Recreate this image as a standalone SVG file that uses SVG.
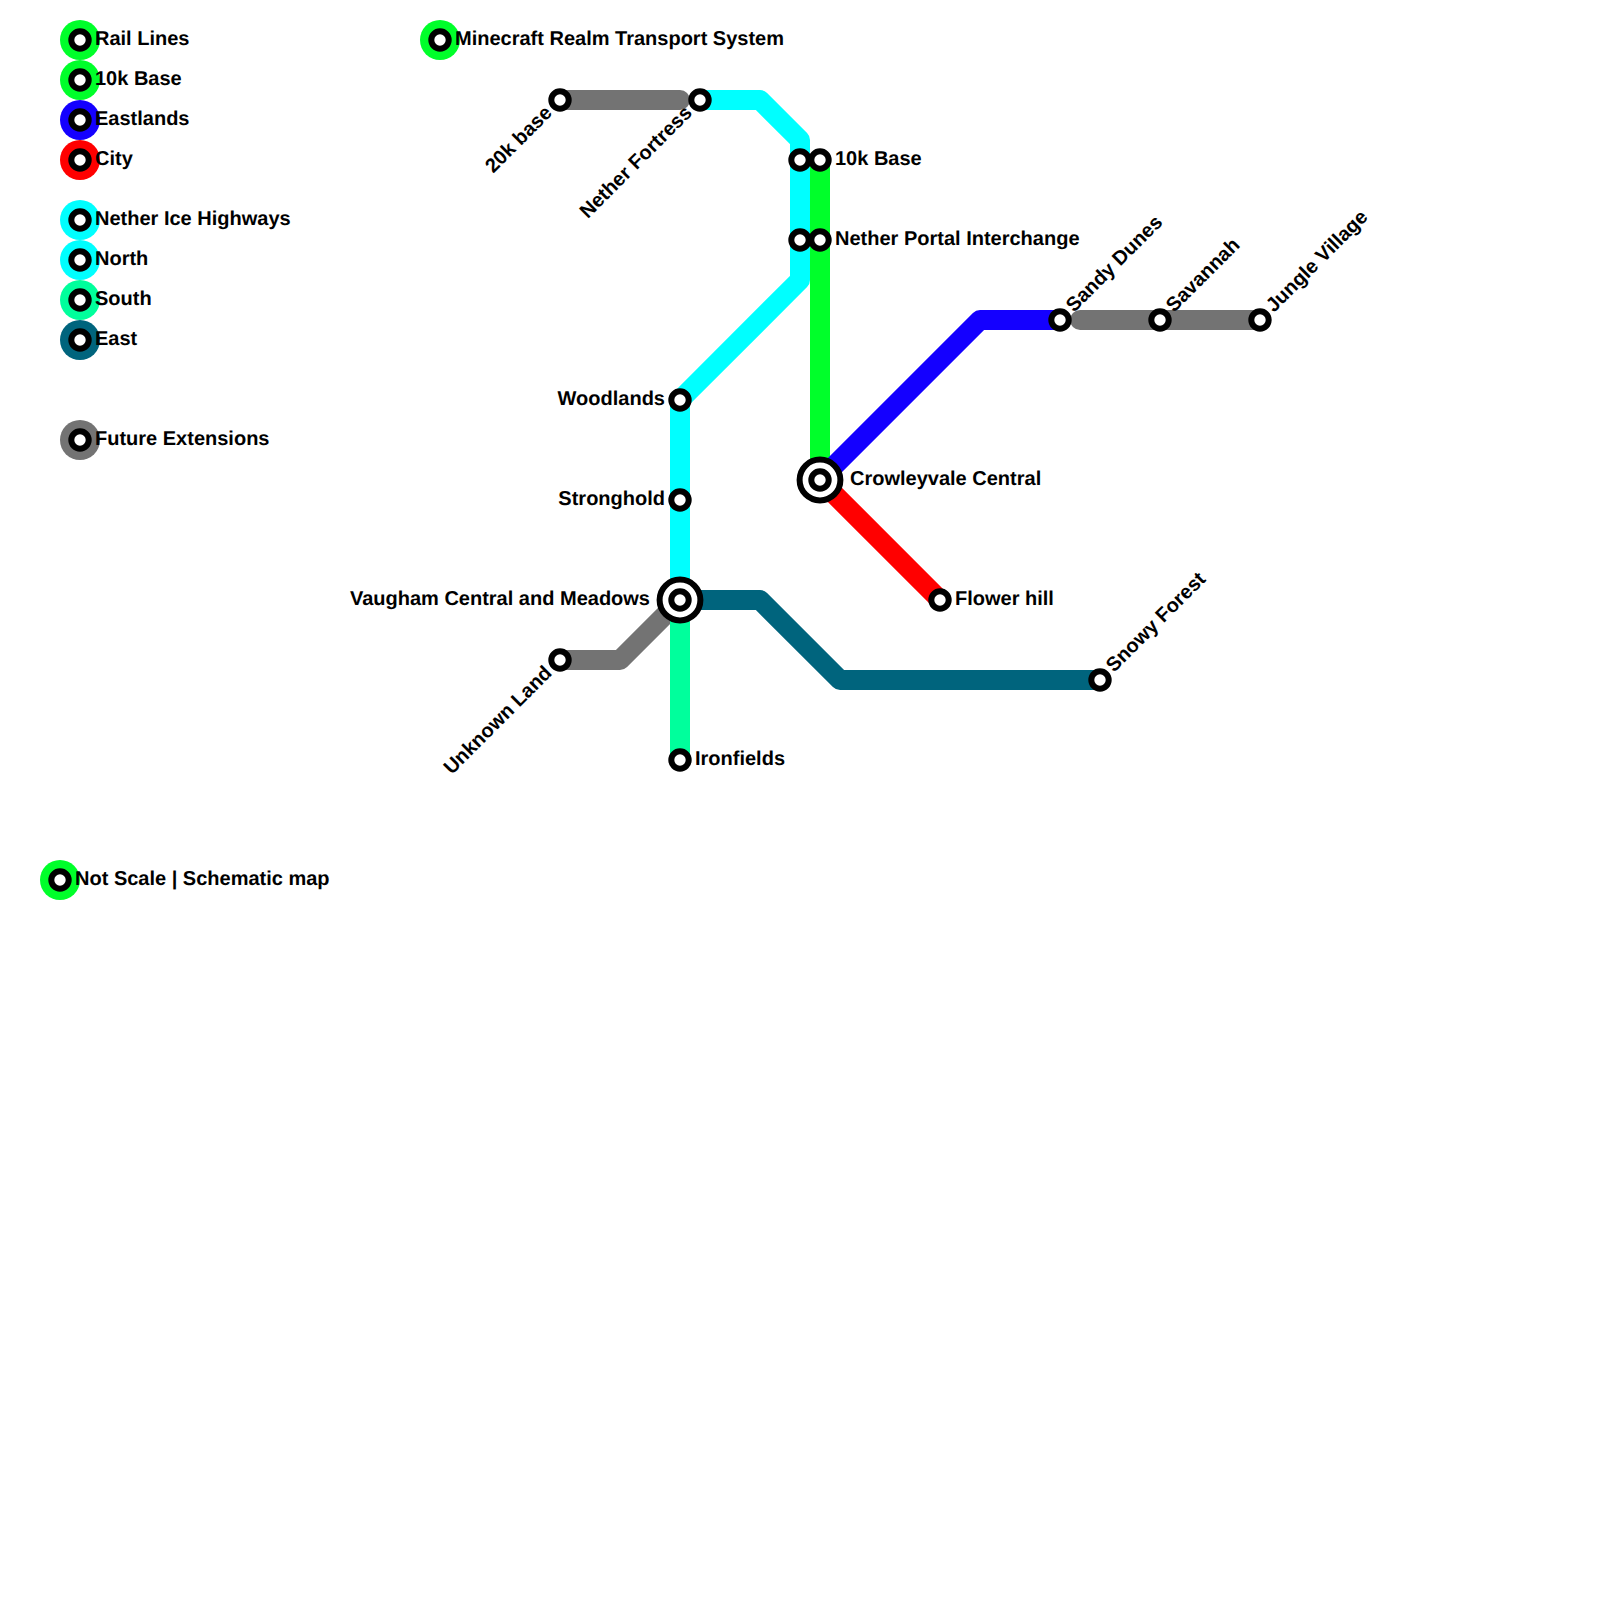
<svg xmlns="http://www.w3.org/2000/svg" width="1600" height="1600" viewBox="0 0 1600 1600">
<style>
text{font-family:"Liberation Sans",Arial,sans-serif;font-weight:bold;font-size:20px;fill:#000;text-rendering:geometricPrecision}
.l{fill:none;stroke-width:20;stroke-linecap:round;stroke-linejoin:round}
.e{text-anchor:end}
.s{fill:#fff;stroke:#000;stroke-width:6}
.b{stroke:none}
.gn{stroke:#00ff2a}.gnf{fill:#00ff2a}
.bl{stroke:#1400ff}.blf{fill:#1400ff}
.rd{stroke:#ff0000}.rdf{fill:#ff0000}
.cy{stroke:#00ffff}.cyf{fill:#00ffff}
.so{stroke:#00ff9c}.sof{fill:#00ff9c}
.ea{stroke:#00647d}.eaf{fill:#00647d}
.gy{stroke:#737373}.gyf{fill:#737373}
</style>
<g id="connectors">
<path class="l gy" d="M560 100H680"/>
<path class="l gy" d="M1080 320H1260"/>
<path class="l gy" d="M560 660H620L680 600"/>
<path class="l cy" d="M700 100H760L800 140V280L680 400V600"/>
<path class="l gn" d="M820 160V480"/>
<path class="l bl" d="M820 480L980 320H1060"/>
<path class="l rd" d="M820 480L940 600"/>
<path class="l so" d="M680 600V760"/>
<path class="l ea" d="M680 600H760L840 680H1100"/>
</g>
<g id="legend-rail-lines"><circle cx="80" cy="40" r="20" class="b gnf"/><circle cx="80" cy="40" r="8.7" class="s"/><text x="95" y="45">Rail Lines</text></g>
<g id="legend-10k-base"><circle cx="80" cy="80" r="20" class="b gnf"/><circle cx="80" cy="80" r="8.7" class="s"/><text x="95" y="85">10k Base</text></g>
<g id="legend-eastlands"><circle cx="80" cy="120" r="20" class="b blf"/><circle cx="80" cy="120" r="8.7" class="s"/><text x="95" y="125">Eastlands</text></g>
<g id="legend-city"><circle cx="80" cy="160" r="20" class="b rdf"/><circle cx="80" cy="160" r="8.7" class="s"/><text x="95" y="165">City</text></g>
<g id="legend-nether"><circle cx="80" cy="220" r="20" class="b cyf"/><circle cx="80" cy="220" r="8.7" class="s"/><text x="95" y="225">Nether Ice Highways</text></g>
<g id="legend-north"><circle cx="80" cy="260" r="20" class="b cyf"/><circle cx="80" cy="260" r="8.7" class="s"/><text x="95" y="265">North</text></g>
<g id="legend-south"><circle cx="80" cy="300" r="20" class="b sof"/><circle cx="80" cy="300" r="8.7" class="s"/><text x="95" y="305">South</text></g>
<g id="legend-east"><circle cx="80" cy="340" r="20" class="b eaf"/><circle cx="80" cy="340" r="8.7" class="s"/><text x="95" y="345">East</text></g>
<g id="legend-future"><circle cx="80" cy="440" r="20" class="b gyf"/><circle cx="80" cy="440" r="8.7" class="s"/><text x="95" y="445">Future Extensions</text></g>
<g id="note-scale"><circle cx="60" cy="880" r="20" class="b gnf"/><circle cx="60" cy="880" r="8.7" class="s"/><text x="75" y="885">Not Scale | Schematic map</text></g>
<g id="title"><circle cx="440" cy="40" r="20" class="b gnf"/><circle cx="440" cy="40" r="8.7" class="s"/><text x="455" y="45">Minecraft Realm Transport System</text></g>
<g id="st-20k-base"><circle cx="560" cy="100" r="8.7" class="s"/><text class="e" transform="translate(553 114) rotate(-45)">20k base</text></g>
<g id="st-nether-fortress"><circle cx="700" cy="100" r="8.7" class="s"/><text class="e" transform="translate(693 114) rotate(-45)">Nether Fortress</text></g>
<g id="st-a"><circle cx="800" cy="160" r="8.7" class="s"/></g>
<g id="st-10k-base"><circle cx="820" cy="160" r="8.7" class="s"/><text x="835" y="165">10k Base</text></g>
<g id="st-b"><circle cx="800" cy="240" r="8.7" class="s"/></g>
<g id="st-nether-portal"><circle cx="820" cy="240" r="8.7" class="s"/><text x="835" y="245">Nether Portal Interchange</text></g>
<g id="st-woodlands"><circle cx="680" cy="400" r="8.7" class="s"/><text class="e" x="665" y="405">Woodlands</text></g>
<g id="st-stronghold"><circle cx="680" cy="500" r="8.7" class="s"/><text class="e" x="665" y="505">Stronghold</text></g>
<g id="st-vaugham"><circle cx="680" cy="600" r="20.4" class="s"/><circle cx="680" cy="600" r="8.7" class="s"/><text class="e" x="650" y="605">Vaugham Central and Meadows</text></g>
<g id="st-unknown-land"><circle cx="560" cy="660" r="8.7" class="s"/><text class="e" transform="translate(553 674) rotate(-45)">Unknown Land</text></g>
<g id="st-ironfields"><circle cx="680" cy="760" r="8.7" class="s"/><text x="695" y="765">Ironfields</text></g>
<g id="st-crowleyvale"><circle cx="820" cy="480" r="20.4" class="s"/><circle cx="820" cy="480" r="8.7" class="s"/><text x="850" y="485">Crowleyvale Central</text></g>
<g id="st-flower-hill"><circle cx="940" cy="600" r="8.7" class="s"/><text x="955" y="605">Flower hill</text></g>
<g id="st-snowy-forest"><circle cx="1100" cy="680" r="8.7" class="s"/><text transform="translate(1114 673) rotate(-45)">Snowy Forest</text></g>
<g id="st-sandy-dunes"><circle cx="1060" cy="320" r="8.7" class="s"/><text transform="translate(1074 313) rotate(-45)">Sandy Dunes</text></g>
<g id="st-savannah"><circle cx="1160" cy="320" r="8.7" class="s"/><text transform="translate(1174 313) rotate(-45)">Savannah</text></g>
<g id="st-jungle-village"><circle cx="1260" cy="320" r="8.7" class="s"/><text transform="translate(1274 313) rotate(-45)">Jungle Village</text></g>
</svg>
